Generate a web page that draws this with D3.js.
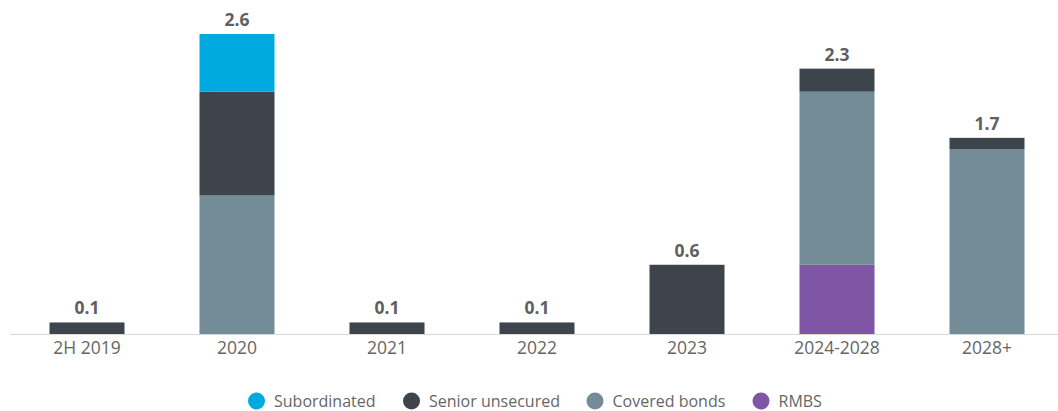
<!DOCTYPE html>
<html>
<head>
<meta charset="utf-8">
<script src="https://cdn.jsdelivr.net/npm/d3@7"></script>
<style>
  body { margin: 0; background: #fff; }
  text { font-family: "Open Sans", sans-serif; }
</style>
</head>
<body>
<div id="chart"></div>
<script>
// data (EUR bn)
var categories = ["2H 2019", "2020", "2021", "2022", "2023", "2024-2028", "2028+"];
var seriesNames = ["RMBS", "Covered bonds", "Senior unsecured", "Subordinated"];
var rmbs        = [0,   0,   0,   0,   0,   0.6, 0];
var covered     = [0,   1.2, 0,   0,   0,   1.5, 1.6];
var senior      = [0.1, 0.9, 0.1, 0.1, 0.6, 0.2, 0.1];
var subordinated= [0,   0.5, 0,   0,   0,   0,   0];
var totals      = [0.1, 2.6, 0.1, 0.1, 0.6, 2.3, 1.7];
var legendNames = ["Subordinated", "Senior unsecured", "Covered bonds", "RMBS"];

var colors = {
    "Subordinated": "#00a9e0",
    "Senior unsecured": "#3d444c",
    "Covered bonds": "#738c97",
    "RMBS": "#7f55a5"
};

var width = 1058, height = 411;

var svg = d3.select("#chart").append("svg")
    .attr("width", width)
    .attr("height", height);

var x = d3.scaleBand()
    .domain(categories)
    .range([12, 1062])
    .paddingInner(0.5)
    .paddingOuter(0.25);

var y = d3.scaleLinear()
    .domain([0, 2.6])
    .range([334, 34]);

// build table for the stack
var table = categories.map(function(c, i) {
    return {
        cat: c,
        "RMBS": rmbs[i],
        "Covered bonds": covered[i],
        "Senior unsecured": senior[i],
        "Subordinated": subordinated[i]
    };
});

var stack = d3.stack().keys(seriesNames)(table);

svg.append("g").selectAll("g")
    .data(stack)
    .enter().append("g")
    .attr("fill", function(d) { return colors[d.key]; })
    .selectAll("rect")
    .data(function(d) { return d; })
    .enter().append("rect")
    .attr("x", function(d) { return x(d.data.cat); })
    .attr("width", x.bandwidth())
    .attr("y", function(d) { return y(d[1]); })
    .attr("height", function(d) { return y(d[0]) - y(d[1]); });

// baseline
svg.append("line")
    .attr("x1", 10).attr("x2", 1058)
    .attr("y1", y(0) + 0.5).attr("y2", y(0) + 0.5)
    .attr("stroke", "#d9d9d9")
    .attr("stroke-width", 1);

// category labels
var xAxis = svg.append("g")
    .attr("transform", "translate(0," + y(0) + ")")
    .call(d3.axisBottom(x).tickSize(0).tickPadding(8));
xAxis.select(".domain").remove();
xAxis.selectAll("text")
    .attr("font-family", "'Open Sans', sans-serif")
    .attr("font-size", 17.5)
    .attr("fill", "#666");

// totals
svg.append("g").selectAll("text")
    .data(categories)
    .enter().append("text")
    .attr("x", function(d) { return x(d) + x.bandwidth() / 2; })
    .attr("y", function(d, i) { return y(totals[i]) - 8; })
    .attr("text-anchor", "middle")
    .attr("font-size", 17.5)
    .attr("font-weight", "bold")
    .attr("fill", "#5f5f5f")
    .text(function(d, i) { return totals[i].toFixed(1); });

// legend
var legendX = [256.5, 411.5, 595, 761];
var legend = svg.append("g").selectAll("g")
    .data(legendNames)
    .enter().append("g")
    .attr("transform", function(d, i) { return "translate(" + legendX[i] + ",401)"; });

legend.append("circle")
    .attr("r", 8.5)
    .attr("fill", function(d) { return colors[d]; });

legend.append("text")
    .attr("x", 17.5)
    .attr("y", 5.5)
    .attr("font-size", 16)
    .attr("fill", "#666")
    .text(function(d) { return d; });
</script>
</body>
</html>
